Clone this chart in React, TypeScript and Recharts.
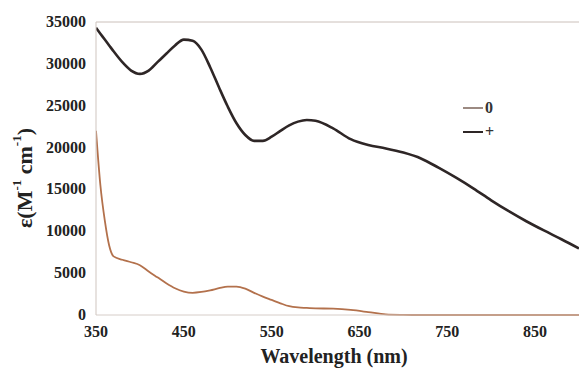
import React from "react";
import { LineChart, Line, XAxis, YAxis, ReferenceLine } from "recharts";

// wavelength grid (nm)
const WAVELENGTHS = [
  350, 355, 360, 365, 370, 380, 390, 400, 410, 420, 430, 440, 450, 460, 470, 480, 490, 500,
  510, 520, 530, 540, 550, 560, 570, 580, 590, 600, 620, 640, 660, 680, 700, 720, 740, 760,
  780, 800, 820, 840, 860, 880, 900,
];

// neutral form "0"
const NEUTRAL = [
  22000, 15500, 11300, 8300, 7000, 6600, 6300, 5950, 5200, 4500, 3800, 3200, 2800, 2650, 2750, 2950, 3200, 3400,
  3400, 3150, 2650, 2200, 1800, 1400, 1050, 900, 850, 800, 750, 600, 350, 80, 20, 0, 0, 0,
  0, 0, 0, 0, 0, 0, 0,
];

// cation "+"
const CATION = [
  34300, 33600, 32900, 32200, 31500, 30200, 29200, 28800, 29200, 30200, 31200, 32200, 32900, 32750, 31700, 29600, 27200, 24900,
  22900, 21500, 20800, 20800, 21300, 22000, 22650, 23100, 23300, 23200, 22300, 21000, 20300, 19900, 19400, 18700, 17600, 16400,
  15100, 13700, 12400, 11200, 10100, 9050, 7950,
];

const X_TICKS = [350, 450, 550, 650, 750, 850];
const Y_TICKS = [0, 5000, 10000, 15000, 20000, 25000, 30000, 35000];

const SERIES = [
  { key: "neutral", name: "0", color: "#b3714c", legendColor: "#9c8a82", width: 1.8 },
  { key: "cation", name: "+", color: "#2e2626", legendColor: "#2e2626", width: 2.6 },
];

const data = WAVELENGTHS.map((w, i) => ({ w, neutral: NEUTRAL[i], cation: CATION[i] }));

const FONT = "'Liberation Serif', 'Times New Roman', serif";

const XTick = (props: any) => {
  const { x, y, payload } = props;
  return (
    <text x={x} y={y + 20} textAnchor="middle" fill="#222" fontSize={16} fontWeight={700} fontFamily={FONT}>
      {payload.value}
    </text>
  );
};

const YTick = (props: any) => {
  const { x, y, payload } = props;
  return (
    <text x={x - 8} y={y + 5} textAnchor="end" fill="#222" fontSize={16} fontWeight={700} fontFamily={FONT}>
      {payload.value}
    </text>
  );
};

export default function App() {
  return (
    <div style={{ position: "absolute", left: 0, top: 0, width: 579, height: 368, background: "#fff", fontFamily: FONT }}>
      <LineChart width={579} height={368} data={data} margin={{ top: 22, right: 0, left: 0, bottom: 0 }} style={{ fontFamily: FONT }}>
        <XAxis
          dataKey="w"
          type="number"
          domain={[350, 900]}
          ticks={X_TICKS}
          allowDataOverflow
          stroke="#d6cdc8"
          tickLine={false}
          tickSize={0}
          tick={XTick}
          height={53}
        />
        <YAxis
          type="number"
          domain={[0, 35000]}
          ticks={Y_TICKS}
          width={96}
          stroke="#cfc5bf"
          tickLine={false}
          tickSize={0}
          tick={YTick}
        />
        <ReferenceLine y={35000} stroke="#cbc0ba" strokeWidth={1} />
        {SERIES.map((s) => (
          <Line
            key={s.key}
            dataKey={s.key}
            name={s.name}
            type="monotone"
            stroke={s.color}
            strokeWidth={s.width}
            dot={false}
            isAnimationActive={false}
          />
        ))}
        <text x={334} y={363} textAnchor="middle" fill="#222" fontSize={20} fontWeight={700} fontFamily={FONT}>
          Wavelength (nm)
        </text>
        <text
          x={24}
          y={178}
          transform="rotate(-90, 24, 178)"
          textAnchor="middle"
          dominantBaseline="central"
          fill="#222"
          fontSize={22}
          fontWeight={700}
          fontFamily={FONT}
        >
          ε(M
          <tspan fontSize={13} dy={-8}>-1</tspan>
          <tspan dy={8}> cm</tspan>
          <tspan fontSize={13} dy={-8}>-1</tspan>
          <tspan dy={8}>)</tspan>
        </text>
      </LineChart>
      <div style={{ position: "absolute", left: 463, top: 96, fontSize: 16, fontWeight: 700, color: "#333" }}>
        {SERIES.map((s) => (
          <div key={s.key} style={{ display: "flex", alignItems: "center", height: 24 }}>
            <div style={{ width: 20, height: 2.5, background: s.legendColor, marginRight: 2 }} />
            <span>{s.name}</span>
          </div>
        ))}
      </div>
    </div>
  );
}
